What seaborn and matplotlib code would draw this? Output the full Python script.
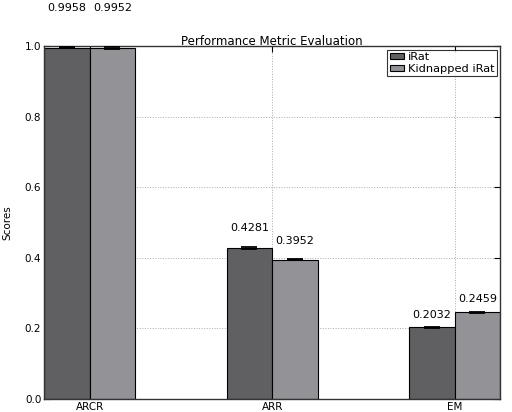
import matplotlib
matplotlib.use("Agg")
import matplotlib.pyplot as plt
import seaborn as sns
import pandas as pd

metrics = ["ARCR", "ARR", "EM"]
irat = [0.9958, 0.4281, 0.2032]
kidnapped = [0.9952, 0.3952, 0.2459]
series_names = ["iRat", "Kidnapped iRat"]
y_ticks = [0.0, 0.2, 0.4, 0.6, 0.8, 1.0]
err = 0.002

df = pd.DataFrame({
    "metric": metrics * 2,
    "score": irat + kidnapped,
    "series": [series_names[0]] * 3 + [series_names[1]] * 3,
})

sns.set_style("white")
plt.rcParams["font.family"] = ["DejaVu Sans"]
plt.rcParams["text.color"] = "black"
plt.rcParams["axes.labelcolor"] = "black"
plt.rcParams["xtick.color"] = "black"
plt.rcParams["ytick.color"] = "black"

fig = plt.figure(figsize=(5.12, 4.12), dpi=100)
ax = fig.add_axes([0.086, 0.0316, 0.891, 0.856])

palette = ["#606062", "#939397"]
sns.barplot(data=df, x="metric", y="score", hue="series", order=metrics,
            hue_order=series_names, palette=palette, width=0.5, dodge=True,
            errorbar=None, saturation=1, edgecolor="black", linewidth=0.8,
            ax=ax)

# error bars and value labels on top of each bar
for cont, vals in zip(ax.containers, [irat, kidnapped]):
    for patch, v in zip(cont.patches, vals):
        cx = patch.get_x() + patch.get_width() / 2
        ax.errorbar(cx, v, yerr=err, fmt="none", ecolor="black",
                    elinewidth=1, capsize=6, capthick=1.3, zorder=5)
        ax.text(cx, 1.1 * v, f"{v:.4f}", ha="center", va="bottom",
                fontsize=8, clip_on=False)

ax.set_xlim(-0.25, 2.25)
ax.set_ylim(0, 1.0)
ax.set_yticks(y_ticks)
ax.set_yticklabels([f"{t:.1f}" for t in y_ticks])
ax.tick_params(axis="both", direction="in", length=4, labelsize=7.5, pad=2,
               left=True, bottom=True, top=True, right=True, color="black")
ax.set_xlabel("")
ax.set_ylabel("Scores", fontsize=7.5, labelpad=9)
ax.set_title("Performance Metric Evaluation", fontsize=8.5, pad=1)
ax.grid(True, linestyle=":", color="#aaaaaa", linewidth=0.7)
ax.set_axisbelow(True)
for s in ax.spines.values():
    s.set_color("#333333")
    s.set_linewidth(1.0)

leg = ax.legend(loc="upper right", fontsize=8.2, frameon=True, fancybox=False,
                handlelength=1.3, handleheight=0.45, handletextpad=0.3,
                borderpad=0.2, labelspacing=0.15, borderaxespad=0.3)
leg.get_frame().set_edgecolor("black")
leg.get_frame().set_linewidth(0.8)

fig.savefig("out.png", dpi=100)
